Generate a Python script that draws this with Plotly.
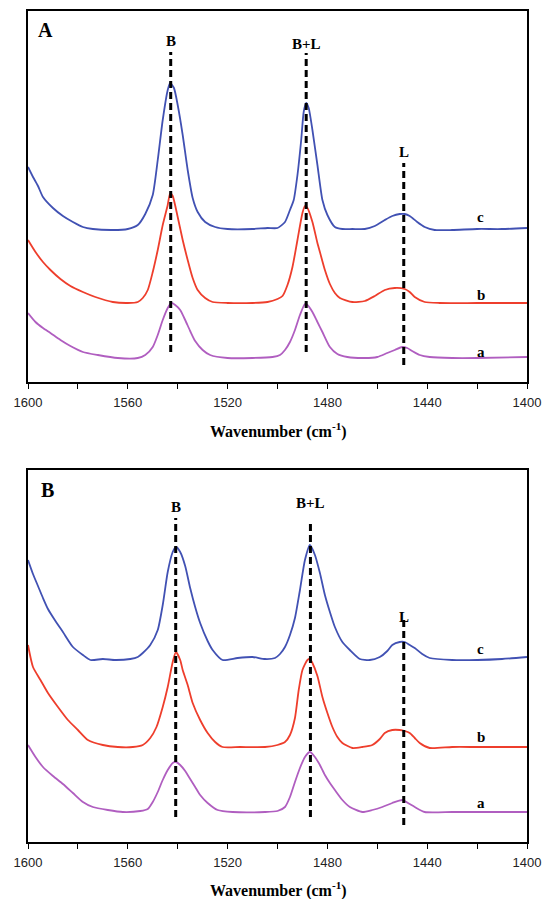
import plotly.graph_objects as go

# ---------------- Panel A data (absorbance, a.u.) ----------------
a_c_wn = [1600, 1598, 1596, 1594, 1590, 1586, 1582, 1578, 1574, 1566, 1560, 1556, 1553, 1550, 1548, 1546, 1544, 1543, 1541.5, 1540, 1538, 1536, 1534, 1532, 1529, 1525, 1520, 1510, 1504, 1500, 1497, 1495, 1493.5, 1492, 1490.5, 1489.5, 1488.5, 1487.5, 1486, 1484, 1482, 1480, 1477, 1474, 1470, 1465, 1461, 1457, 1454, 1451, 1449, 1447, 1444, 1441, 1437, 1430, 1420, 1410, 1400]
a_c_abs = [2.15, 2.05, 1.96, 1.85, 1.74, 1.66, 1.60, 1.55, 1.53, 1.52, 1.53, 1.57, 1.68, 1.87, 2.22, 2.62, 2.92, 2.99, 2.94, 2.77, 2.47, 2.12, 1.84, 1.70, 1.60, 1.55, 1.53, 1.53, 1.54, 1.54, 1.60, 1.72, 1.82, 2.07, 2.42, 2.70, 2.79, 2.74, 2.52, 2.17, 1.82, 1.67, 1.55, 1.53, 1.53, 1.53, 1.56, 1.62, 1.66, 1.68, 1.68, 1.66, 1.60, 1.55, 1.52, 1.52, 1.53, 1.53, 1.54]

a_b_wn = [1600, 1597, 1594, 1591, 1587, 1583, 1578, 1573, 1566, 1560, 1556, 1554, 1552, 1550, 1548, 1546, 1544, 1543, 1542, 1540, 1538, 1536, 1534, 1532, 1529, 1526, 1520, 1510, 1504, 1500, 1498, 1496, 1494, 1492, 1490, 1489, 1488, 1486, 1484, 1483, 1481, 1479, 1477, 1475, 1470, 1465, 1461, 1457, 1453, 1449, 1447, 1445, 1441, 1435, 1420, 1400]
a_b_abs = [1.42, 1.30, 1.20, 1.12, 1.03, 0.96, 0.90, 0.85, 0.80, 0.79, 0.80, 0.84, 0.92, 1.10, 1.32, 1.57, 1.77, 1.89, 1.86, 1.65, 1.42, 1.22, 1.04, 0.92, 0.84, 0.80, 0.79, 0.79, 0.80, 0.83, 0.86, 0.97, 1.15, 1.42, 1.69, 1.76, 1.74, 1.60, 1.39, 1.30, 1.12, 0.98, 0.89, 0.84, 0.80, 0.81, 0.86, 0.92, 0.94, 0.93, 0.90, 0.85, 0.80, 0.79, 0.79, 0.79]

a_a_wn = [1600, 1597, 1594, 1591, 1587, 1583, 1578, 1572, 1564, 1556, 1553, 1550, 1548, 1546, 1544, 1542.5, 1541, 1539, 1537, 1535, 1533, 1530, 1527, 1520, 1510, 1502, 1499, 1497, 1495, 1493, 1491, 1489, 1488, 1486, 1484, 1482, 1479, 1476, 1472, 1465, 1460, 1456, 1453, 1450, 1448, 1446, 1443, 1439, 1430, 1420, 1400]
a_a_abs = [0.69, 0.60, 0.54, 0.49, 0.42, 0.36, 0.30, 0.27, 0.24, 0.24, 0.27, 0.35, 0.47, 0.62, 0.74, 0.79, 0.77, 0.72, 0.62, 0.51, 0.41, 0.32, 0.27, 0.24, 0.24, 0.25, 0.27, 0.32, 0.40, 0.52, 0.67, 0.78, 0.77, 0.70, 0.60, 0.50, 0.35, 0.28, 0.25, 0.24, 0.25, 0.29, 0.32, 0.35, 0.34, 0.31, 0.27, 0.25, 0.24, 0.24, 0.25]

# ---------------- Panel B data (absorbance, a.u.) ----------------
b_c_wn = [1600, 1598, 1596, 1594, 1592, 1589, 1586, 1582, 1578, 1575, 1570, 1565, 1559, 1556, 1554, 1551, 1548, 1546, 1544, 1542, 1540.7, 1539, 1537, 1535, 1533, 1531, 1528, 1526, 1522, 1516, 1510, 1505, 1501, 1499, 1497, 1495, 1493, 1491, 1489, 1487, 1485, 1483, 1481, 1479, 1477, 1474, 1471, 1467, 1463, 1459, 1456, 1454, 1451, 1449, 1447, 1445, 1442, 1439, 1430, 1420, 1410, 1400]
b_c_abs = [2.82, 2.68, 2.56, 2.44, 2.33, 2.21, 2.10, 1.95, 1.87, 1.82, 1.83, 1.82, 1.83, 1.85, 1.89, 1.97, 2.12, 2.37, 2.70, 2.90, 2.95, 2.90, 2.76, 2.54, 2.35, 2.19, 2.01, 1.92, 1.82, 1.84, 1.85, 1.83, 1.84, 1.88, 1.95, 2.07, 2.24, 2.52, 2.82, 2.97, 2.87, 2.69, 2.47, 2.30, 2.15, 2.00, 1.92, 1.83, 1.82, 1.85, 1.91, 1.97, 2.00, 2.00, 1.97, 1.94, 1.88, 1.84, 1.82, 1.82, 1.83, 1.85]

b_b_wn = [1600, 1598, 1595, 1592, 1588, 1584, 1580, 1576, 1570, 1564, 1558, 1554, 1551, 1548.5, 1546, 1544, 1542, 1540.7, 1539, 1538, 1536, 1534, 1531, 1528, 1525, 1522, 1515, 1505, 1500, 1497, 1495, 1493, 1491.5, 1490, 1488, 1487, 1486, 1484, 1482, 1480, 1478, 1476, 1474, 1470, 1466, 1462, 1459, 1457, 1454, 1451, 1449, 1447, 1445, 1443, 1439, 1430, 1420, 1400]
b_b_abs = [1.97, 1.75, 1.62, 1.49, 1.35, 1.22, 1.12, 1.02, 0.97, 0.95, 0.95, 0.97, 1.04, 1.15, 1.35, 1.55, 1.80, 1.90, 1.82, 1.72, 1.57, 1.39, 1.22, 1.09, 1.00, 0.95, 0.95, 0.95, 0.97, 1.00, 1.07, 1.24, 1.52, 1.72, 1.82, 1.83, 1.79, 1.66, 1.45, 1.29, 1.15, 1.05, 0.99, 0.94, 0.95, 0.97, 1.03, 1.09, 1.12, 1.12, 1.11, 1.09, 1.04, 0.99, 0.94, 0.95, 0.95, 0.95]

b_a_wn = [1600, 1597, 1594, 1590, 1586, 1582, 1578, 1574, 1568, 1562, 1555, 1552, 1550, 1548, 1546, 1544, 1542, 1540.7, 1539, 1537, 1535, 1533, 1531, 1528, 1524, 1518, 1505, 1500, 1497, 1495, 1493, 1491, 1489, 1487, 1485, 1483, 1481, 1479, 1477, 1474, 1471, 1466, 1462, 1458, 1454, 1450, 1447, 1445, 1441, 1430, 1420, 1400]
b_a_abs = [0.97, 0.85, 0.75, 0.66, 0.58, 0.49, 0.40, 0.35, 0.32, 0.30, 0.31, 0.33, 0.40, 0.50, 0.62, 0.72, 0.79, 0.80, 0.77, 0.71, 0.63, 0.55, 0.47, 0.39, 0.32, 0.30, 0.30, 0.31, 0.35, 0.45, 0.60, 0.74, 0.85, 0.90, 0.85, 0.77, 0.67, 0.59, 0.52, 0.42, 0.35, 0.30, 0.32, 0.35, 0.39, 0.42, 0.38, 0.35, 0.30, 0.30, 0.30, 0.30]

# ---------------- Peak markers ----------------
peak_names = ["B", "B+L", "L"]
peak_wn_A = [1542.8, 1488.5, 1449.4]
peak_low_A = [0.30, 0.30, 0.17]
peak_high_A = [3.30, 3.29, 2.19]
peak_label_A = [3.41, 3.38, 2.30]

peak_wn_B = [1540.8, 1486.8, 1449.4]
peak_low_B = [0.25, 0.25, 0.17]
peak_high_B = [3.24, 3.22, 2.22]
peak_label_B = [3.35, 3.39, 2.25]

series_names = ["a", "b", "c"]
series_label_wn = 1418.5
series_label_A = [0.30, 0.87, 1.65]
series_label_B = [0.39, 1.05, 1.93]

tick_vals = [1600, 1560, 1520, 1480, 1440, 1400]
tick_text = ["1600", "1560", "1520", "1480", "1440", "1400"]
minor_step = 20

BLUE = "#4151b3"
RED = "#ee3e2c"
PURPLE = "#b05ec0"
SERIF = "Liberation Serif, Times New Roman, serif"
SANS = "Liberation Sans, Arial, sans-serif"

fig = go.Figure()

panels = [
    ("x", "y", [(a_a_wn, a_a_abs, PURPLE), (a_b_wn, a_b_abs, RED), (a_c_wn, a_c_abs, BLUE)],
     peak_wn_A, peak_low_A, peak_high_A, peak_label_A, series_label_A),
    ("x2", "y2", [(b_a_wn, b_a_abs, PURPLE), (b_b_wn, b_b_abs, RED), (b_c_wn, b_c_abs, BLUE)],
     peak_wn_B, peak_low_B, peak_high_B, peak_label_B, series_label_B),
]

annotations = []
for xa, ya, curves, pwn, plo, phi, plab, slab in panels:
    for wn, ab, col in curves:
        fig.add_trace(go.Scatter(x=wn, y=ab, mode="lines", xaxis=xa, yaxis=ya,
                                 line=dict(color=col, width=1.8, shape="spline", smoothing=0.6),
                                 showlegend=False, hoverinfo="skip"))
    for i in range(3):
        fig.add_trace(go.Scatter(x=[pwn[i], pwn[i]], y=[plo[i], phi[i]], mode="lines",
                                 xaxis=xa, yaxis=ya,
                                 line=dict(color="black", width=3, dash="7px,4px"),
                                 showlegend=False, hoverinfo="skip"))
        annotations.append(dict(x=pwn[i], y=plab[i], xref=xa, yref=ya, text="<b>%s</b>" % peak_names[i],
                                showarrow=False, xanchor="center", yanchor="middle",
                                font=dict(family=SERIF, size=15, color="black")))
        annotations.append(dict(x=series_label_wn, y=slab[i], xref=xa, yref=ya,
                                text="<b>%s</b>" % series_names[i], showarrow=False,
                                xanchor="center", yanchor="middle",
                                font=dict(family=SERIF, size=15, color="black")))

# Panel letters and axis titles
annotations.append(dict(x=45 / 544, y=1 - 30 / 899, xref="paper", yref="paper", text="<b>A</b>",
                        showarrow=False, xanchor="center", yanchor="middle",
                        font=dict(family=SERIF, size=20, color="black")))
annotations.append(dict(x=47 / 544, y=1 - 490 / 899, xref="paper", yref="paper", text="<b>B</b>",
                        showarrow=False, xanchor="center", yanchor="middle",
                        font=dict(family=SERIF, size=20, color="black")))
for ypix in (430, 889):
    annotations.append(dict(x=278 / 544, y=1 - ypix / 899, xref="paper", yref="paper",
                            text="<b>Wavenumber (cm<sup>-1</sup>)</b>", showarrow=False,
                            xanchor="center", yanchor="middle",
                            font=dict(family=SERIF, size=16, color="black")))

xcommon = dict(range=[1600, 1400], showline=True, linecolor="black", linewidth=1.6, mirror=True,
               ticks="outside", ticklen=5, tickwidth=1.3, tickcolor="black",
               tickvals=tick_vals, ticktext=tick_text, showgrid=False, zeroline=False,
               ticklabelstandoff=3,
               minor=dict(dtick=minor_step, tick0=1400, ticks="outside", ticklen=5, tickwidth=1.3,
                          tickcolor="black", showgrid=False),
               tickfont=dict(family=SANS, size=13, color="#222222"), automargin=False,
               domain=[28 / 544, 527 / 544])
ycommon = dict(showline=True, linecolor="black", linewidth=1.6, mirror=True, ticks="",
               showticklabels=False, showgrid=False, zeroline=False, automargin=False)

fig.update_layout(
    template="none",
    width=544, height=899,
    margin=dict(l=0, r=0, t=0, b=0, pad=0),
    paper_bgcolor="white", plot_bgcolor="white",
    xaxis=dict(xcommon, anchor="y"),
    yaxis=dict(ycommon, range=[0, 3.71], domain=[1 - 382 / 899, 1 - 11 / 899], anchor="x"),
    xaxis2=dict(xcommon, anchor="y2"),
    yaxis2=dict(ycommon, range=[0, 3.72], domain=[1 - 842 / 899, 1 - 470 / 899], anchor="x2"),
    annotations=annotations,
)

fig.write_html("out.html", config={"displayModeBar": False},
               post_script="document.body.style.margin='0';document.body.style.overflow='hidden';")
